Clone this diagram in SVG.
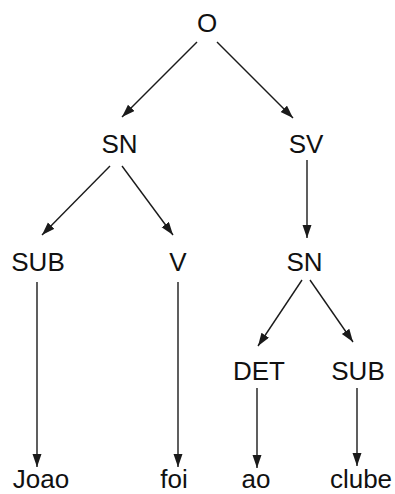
<svg xmlns="http://www.w3.org/2000/svg" width="395" height="494" viewBox="0 0 395 494">
  <defs>
    <marker id="arrow" markerUnits="userSpaceOnUse" markerWidth="14" markerHeight="10" refX="13" refY="4.5" orient="auto">
      <path d="M0,0 L13,4.5 L0,9 z" fill="#1a1a1a"/>
    </marker>
    <style>
      text { font-family: "Liberation Sans", Arial, sans-serif; font-size: 26px; fill: #111; text-anchor: middle; }
      .edge { stroke: #1a1a1a; stroke-width: 1.4; fill: none; marker-end: url(#arrow); }
    </style>
  </defs>
  <rect width="395" height="494" fill="#fff"/>

  <g id="connectors">
    <line class="edge" x1="197" y1="42" x2="122" y2="117"/>
    <line class="edge" x1="217" y1="42" x2="293" y2="118"/>
    <line class="edge" x1="307" y1="160" x2="307" y2="238"/>
    <line class="edge" x1="110" y1="166" x2="42" y2="235"/>
    <line class="edge" x1="122" y1="166" x2="173" y2="235"/>
    <line class="edge" x1="302" y1="280" x2="258" y2="346"/>
    <line class="edge" x1="310" y1="280" x2="353" y2="342"/>
    <line class="edge" x1="37" y1="282" x2="37" y2="467"/>
    <line class="edge" x1="178" y1="282" x2="178" y2="467"/>
    <line class="edge" x1="257" y1="388" x2="257" y2="468"/>
    <line class="edge" x1="357" y1="388" x2="357" y2="466"/>
  </g>

  <g id="node-O"><text x="207" y="32">O</text></g>
  <g id="node-SN1"><text x="119.5" y="153">SN</text></g>
  <g id="node-SV"><text x="306" y="153">SV</text></g>
  <g id="node-SUB1"><text x="38" y="271">SUB</text></g>
  <g id="node-V"><text x="178" y="271">V</text></g>
  <g id="node-SN2"><text x="304.5" y="271">SN</text></g>
  <g id="node-DET"><text x="259" y="380">DET</text></g>
  <g id="node-SUB2"><text x="358" y="380">SUB</text></g>
  <g id="node-Joao"><text x="41" y="488">Joao</text></g>
  <g id="node-foi"><text x="174" y="488">foi</text></g>
  <g id="node-ao"><text x="256" y="488">ao</text></g>
  <g id="node-clube"><text x="361" y="488">clube</text></g>
</svg>
